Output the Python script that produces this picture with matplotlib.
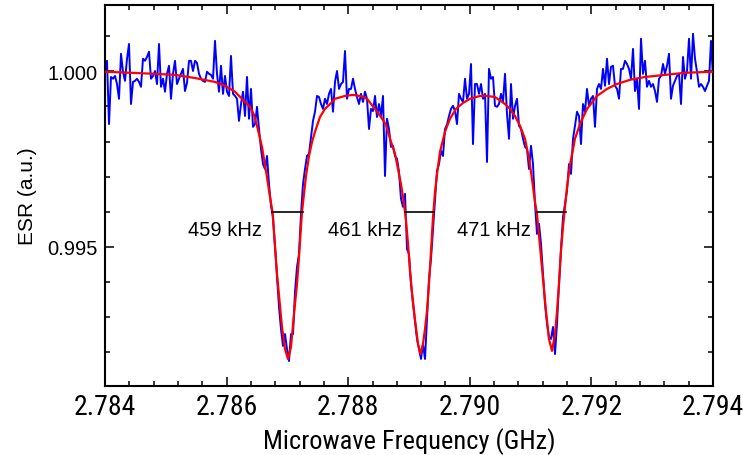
import numpy as np
import matplotlib
matplotlib.use("Agg")
import matplotlib.pyplot as plt
from matplotlib import font_manager as fm
from matplotlib.ticker import MultipleLocator, FormatStrFormatter

# ---------------- data ----------------
freq_start, freq_stop = 2.784, 2.794   # GHz, measured sweep
# measured ESR, given as (ESR - 1) in units of 1e-3
esr_meas_milli = [
    -0.01, 0.30, -1.50, -0.16, -0.21, -0.13, -0.36, -0.78, 0.50, -0.01,
    -0.27, 0.36, 0.78, -0.93, -0.30, -0.27, -0.21, -0.30, -0.44, 0.36,
    0.30, 0.41, 0.56, -0.21, -0.13, 0.01, -0.36, 0.78, -0.44, -0.21,
    -0.58, -0.07, 0.16, -0.78, -0.07, 0.30, -0.36, -0.21, -0.07, 0.07,
    -0.56, -0.33, 0.30, 0.30, 0.01, 0.30, 0.24, -0.07, -0.21, -0.27,
    -0.30, -0.01, -0.07, -0.10, -0.21, 0.87, -0.07, -0.58, 0.16, -0.64,
    -0.13, -0.58, -0.70, 0.44, -0.64, -0.70, -0.78, -1.41, -0.93, -0.58,
    -1.27, -0.16, -1.35, -0.50, -1.58, -1.50, -1.01, -1.64, -2.21, -2.64,
    -2.78, -2.41, -3.21, -3.83, -4.15, -4.97, -5.85, -6.71, -7.34, -7.82,
    -7.48, -7.91, -8.25, -7.48, -7.48, -6.28, -5.57, -5.20, -4.06, -3.21,
    -2.78, -2.41, -2.35, -1.87, -1.41, -1.15, -0.70, -0.73, -0.93, -1.07,
    -0.78, -0.93, -0.64, -0.50, -1.15, -0.30, 0.01, -0.50, -0.36, -0.30,
    0.58, -0.78, -0.50, -0.50, -0.21, -0.50, -0.73, -0.93, -0.64, -0.87,
    -0.58, -0.78, -1.64, -1.07, -1.13, -0.70, -1.30, -0.93, -1.27, -0.70,
    -2.98, -1.35, -1.64, -2.15, -2.12, -2.41, -2.49, -2.86, -3.63, -3.86,
    -3.49, -5.06, -5.20, -6.05, -6.62, -7.11, -7.62, -7.91, -8.19, -7.76,
    -8.19, -7.05, -5.91, -5.34, -4.49, -3.63, -2.83, -2.64, -2.26, -2.41,
    -1.64, -1.52, -1.27, -1.07, -0.98, -1.13, -1.50, -0.64, -0.78, -0.87,
    -0.21, -0.78, -0.64, 0.21, -2.07, -0.36, -0.36, -0.64, -0.36, -0.78,
    -0.64, -2.58, 0.07, -0.21, -0.16, -0.98, -1.01, -0.93, -0.64, -0.87,
    -0.07, -1.21, -1.92, -0.36, -1.35, -0.98, -0.78, -1.55, -1.64, -1.92,
    -2.15, -2.21, -2.78, -2.12, -2.64, -3.77, -4.63, -4.34, -4.91, -5.77,
    -6.62, -7.19, -7.56, -7.62, -7.28, -8.05, -7.19, -6.05, -5.06, -4.15,
    -3.77, -3.40, -2.64, -2.92, -1.92, -1.55, -1.15, -1.27, -2.07, -0.93,
    -1.15, -0.50, -0.98, -0.78, -0.70, -1.58, -0.50, -0.36, -0.50, 0.07,
    -0.41, 0.36, -0.36, 0.13, 0.16, -0.41, -0.50, -0.78, 0.07, 0.07,
    0.30, 0.21, 0.07, -0.21, 0.64, -0.56, -0.21, -1.07, 0.93, -0.07,
    0.30, -0.44, -0.27, -0.44, -0.36, -0.56, -0.87, -0.21, -0.13, 0.21,
    -0.07, 0.16, 0.50, -0.78, -0.41, -0.27, -0.13, -0.07, -0.93, 0.41,
    -0.21, 0.01, 0.93, -0.21, 1.07, 0.36, -0.01, -0.44, -0.36, -0.44,
    -0.56, -0.41, -0.27, 0.87, -0.16,
]

# fitted curve
fit_freq = [
    2.784000, 2.784411, 2.784822, 2.785151, 2.785480, 2.785809, 2.785974,
    2.786138, 2.786303, 2.786385, 2.786451, 2.786500, 2.786582, 2.786664,
    2.786714, 2.786755, 2.786829, 2.786911, 2.786961, 2.787010, 2.787059,
    2.787109, 2.787158, 2.787191, 2.787240, 2.787306, 2.787355, 2.787405,
    2.787454, 2.787536, 2.787618, 2.787701, 2.787783, 2.787947, 2.788079,
    2.788194, 2.788309, 2.788441, 2.788539, 2.788622, 2.788688, 2.788770,
    2.788819, 2.788868, 2.788918, 2.788951, 2.788984, 2.789016, 2.789049,
    2.789099, 2.789148, 2.789189, 2.789230, 2.789263, 2.789296, 2.789329,
    2.789362, 2.789395, 2.789428, 2.789461, 2.789510, 2.789592, 2.789674,
    2.789773, 2.789888, 2.790003, 2.790168, 2.790283, 2.790414, 2.790579,
    2.790661, 2.790743, 2.790826, 2.790908, 2.790974, 2.791023, 2.791072,
    2.791105, 2.791154, 2.791204, 2.791253, 2.791302, 2.791352, 2.791401,
    2.791434, 2.791467, 2.791500, 2.791533, 2.791566, 2.791599, 2.791648,
    2.791730, 2.791812, 2.791928, 2.792092, 2.792256, 2.792421, 2.792635,
    2.792882, 2.793211, 2.793539, 2.794000,
]
fit_milli = [
    -0.01, -0.04, -0.07, -0.10, -0.19, -0.30, -0.41,
    -0.58, -0.87, -1.01, -1.24, -1.55, -2.15, -3.01,
    -3.58, -4.00, -5.77, -7.28, -7.91, -8.19, -7.85,
    -6.91, -6.05, -5.28, -4.00, -2.98, -2.41, -2.01,
    -1.72, -1.30, -1.07, -0.93, -0.78, -0.70, -0.67,
    -0.70, -0.78, -1.07, -1.30, -1.52, -1.92, -2.35,
    -2.78, -3.21, -3.77, -4.26, -4.91, -5.68, -6.28,
    -7.08, -7.76, -8.05, -7.76, -7.34, -6.82, -6.05,
    -5.11, -4.15, -3.43, -2.92, -2.29, -1.72, -1.35,
    -1.07, -0.90, -0.78, -0.70, -0.70, -0.73, -0.93,
    -1.07, -1.27, -1.55, -1.92, -2.49, -3.06, -3.72,
    -4.06, -4.97, -5.91, -6.82, -7.62, -7.96, -7.48,
    -6.85, -6.05, -5.11, -4.43, -3.86, -3.29, -2.66,
    -1.92, -1.50, -1.07, -0.70, -0.50, -0.36, -0.24,
    -0.16, -0.10, -0.04, -0.01,
]

# linewidth markers (FWHM)
fwhm_left = [2.78675, 2.78893, 2.79111]
fwhm_right = [2.78726, 2.78941, 2.79158]
fwhm_level = 0.99600
fwhm_labels = ["459 kHz", "461 kHz", "471 kHz"]
label_x = [2.786590, 2.788885, 2.791010]
label_y = 0.99551

x_major_ticks = [2.784, 2.786, 2.788, 2.790, 2.792, 2.794]
y_major_ticks = [0.995, 1.000]

# ---------------- plotting ----------------
regular = "Liberation Sans"
narrow = None
for cand in ["Arial Narrow", "Liberation Sans Narrow", "Nimbus Sans Narrow",
             "Roboto Condensed", "Archivo Narrow", "PT Sans Narrow"]:
    try:
        fm.findfont(cand, fallback_to_default=False)
        narrow = cand
        break
    except Exception:
        pass

plt.rcParams["font.family"] = [regular, "DejaVu Sans"]

fig = plt.figure(figsize=(7.43, 4.56), dpi=100)
ax = fig.add_axes([105 / 743, 69 / 456, 608 / 743, 381 / 456])

freq = np.linspace(freq_start, freq_stop, len(esr_meas_milli))
esr = 1.0 + np.array(esr_meas_milli) * 1e-3
fit = 1.0 + np.array(fit_milli) * 1e-3

ax.plot(freq, esr, color="#0000FF", lw=1.4, zorder=2)
ax.plot(fit_freq, fit, color="#FF0000", lw=1.6, zorder=3)

for xl, xr, lab, lx in zip(fwhm_left, fwhm_right, fwhm_labels, label_x):
    ax.plot([xl, xr], [fwhm_level, fwhm_level], color="black", lw=1.2, zorder=4)
    ax.text(lx, label_y, lab, ha="right", va="center", fontsize=14.5,
            family=[regular, "DejaVu Sans"], zorder=5)

ax.set_xlim(freq_start, freq_stop)
ax.set_ylim(0.99104, 1.00189)
ax.set_xticks(x_major_ticks)
ax.set_yticks(y_major_ticks)
ax.xaxis.set_minor_locator(MultipleLocator(0.0004))
ax.yaxis.set_minor_locator(MultipleLocator(0.001))
ax.xaxis.set_major_formatter(FormatStrFormatter("%.3f"))
ax.yaxis.set_major_formatter(FormatStrFormatter("%.3f"))

ax.tick_params(which="both", direction="in", top=True, right=True, width=1.1)
ax.tick_params(which="major", length=6.5)
ax.tick_params(which="minor", length=3.6)
ax.tick_params(axis="y", which="major", pad=5, labelsize=14.5)
ax.tick_params(axis="x", which="major", pad=5, labelsize=20 if narrow else 16)

for sp in ax.spines.values():
    sp.set_linewidth(1.5)

xfam = [narrow, "DejaVu Sans"] if narrow else [regular, "DejaVu Sans"]
for t in ax.get_xticklabels():
    t.set_family(xfam)

ax.set_xlabel("Microwave Frequency (GHz)", fontsize=19 if narrow else 15,
              family=xfam, labelpad=5)
ax.set_ylabel("ESR (a.u.)", fontsize=15, labelpad=8)

fig.savefig("out.png", dpi=100)
